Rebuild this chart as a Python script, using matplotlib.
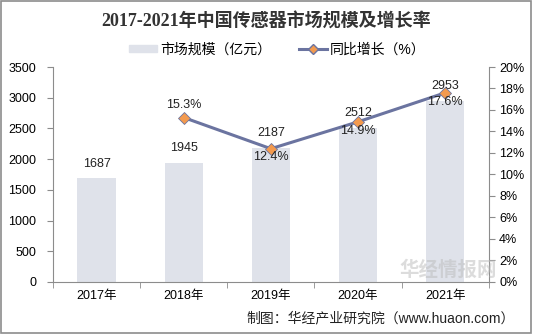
import numpy as np
import matplotlib.pyplot as plt
from matplotlib.patches import Rectangle
from matplotlib.lines import Line2D
from matplotlib.ticker import FuncFormatter, MultipleLocator

plt.rcParams['font.family'] = ['Liberation Sans', 'Noto Sans CJK SC']

years = ['2017年', '2018年', '2019年', '2020年', '2021年']
market = [1687, 1945, 2187, 2512, 2953]
growth = [None, 15.3, 12.4, 14.9, 17.6]

bar_c = '#dfe2ea'
line_c = '#6b74a0'
mark_c = '#f39a4e'
axis_c = '#8c8c8c'

fig = plt.figure(figsize=(5.33, 3.34), dpi=100)
ax = fig.add_axes([0.0994, 0.1557, 0.8176, 0.6437])
x = np.arange(len(years))

ax.bar(x, market, width=0.44, color=bar_c, zorder=1)
ax.set_xlim(-0.5, 4.5)
ax.set_ylim(0, 3500)
ax.yaxis.set_major_locator(MultipleLocator(500))
ax.set_xticks(x)
ax.set_xticklabels(years, fontsize=9)
ax.set_xticks(np.arange(-0.5, 5, 1), minor=True)
ax.tick_params(axis='x', which='major', length=0, pad=6)
ax.tick_params(axis='x', which='minor', length=4, color=axis_c)
ax.tick_params(axis='y', length=4, color=axis_c, labelsize=9, pad=8)
for s in ['top', 'right']:
    ax.spines[s].set_visible(False)
ax.spines['left'].set_color(axis_c)
ax.spines['bottom'].set_color(axis_c)

for xi, v in zip(x, market):
    ax.annotate(str(v), (xi, v), xytext=(0, 6), textcoords='offset points',
                ha='center', va='bottom', fontsize=9, color='#222222')

ax2 = ax.twinx()
ax2.set_ylim(0, 20)
ax2.yaxis.set_major_locator(MultipleLocator(2))
ax2.yaxis.set_major_formatter(FuncFormatter(lambda v, p: '%d%%' % v))
ax2.tick_params(axis='y', length=4, color=axis_c, labelsize=9)
for s in ['top', 'left', 'bottom']:
    ax2.spines[s].set_visible(False)
ax2.spines['right'].set_color(axis_c)

gx = x[1:]
gy = growth[1:]
ax2.plot(gx, gy, color=line_c, lw=2.2, marker='D', markersize=6,
         markerfacecolor=mark_c, markeredgecolor=line_c, markeredgewidth=0.6, zorder=3)
for xi, v in zip(gx, gy):
    if xi == 1:
        ax2.annotate('%.1f%%' % v, (xi, v), xytext=(0, 5), textcoords='offset points',
                     ha='center', va='bottom', fontsize=9, color='#222222')
    else:
        ax2.annotate('%.1f%%' % v, (xi, v), xytext=(0, -2), textcoords='offset points',
                     ha='center', va='top', fontsize=9, color='#222222')

fig.text(0.5, 0.935, '2017-2021年中国传感器市场规模及增长率', ha='center', va='center',
         fontsize=13, fontweight='bold', color='#333333',
         family=['Liberation Serif', 'Noto Sans CJK SC'])

handles = [Rectangle((0, 0), 1, 1, color=bar_c),
           Line2D([], [], color=line_c, lw=2.2, marker='D', markersize=5,
                  markerfacecolor=mark_c, markeredgecolor=line_c)]
fig.legend(handles, ['市场规模（亿元）', '同比增长（%）'], loc='center',
           bbox_to_anchor=(0.52, 0.852), ncol=2, frameon=False, fontsize=10,
           handlelength=2.0, handleheight=0.5, columnspacing=2.0, handletextpad=0.2)

fig.text(0.965, 0.048, '制图：华经产业研究院（www.huaon.com）', ha='right', va='center',
         fontsize=10, color='#222222')
# faint watermark, kept clear of the tick labels
fig.text(0.84, 0.19, '华经情报网', ha='center', va='center', fontsize=14,
         fontweight='bold', color='#bbbbbb', alpha=0.5)

fig.patches.append(Rectangle((0.002, 0.003), 0.995, 0.993, transform=fig.transFigure,
                             fill=False, edgecolor='#8c8c8c', lw=1.2))

fig.savefig('out.png', dpi=100)
